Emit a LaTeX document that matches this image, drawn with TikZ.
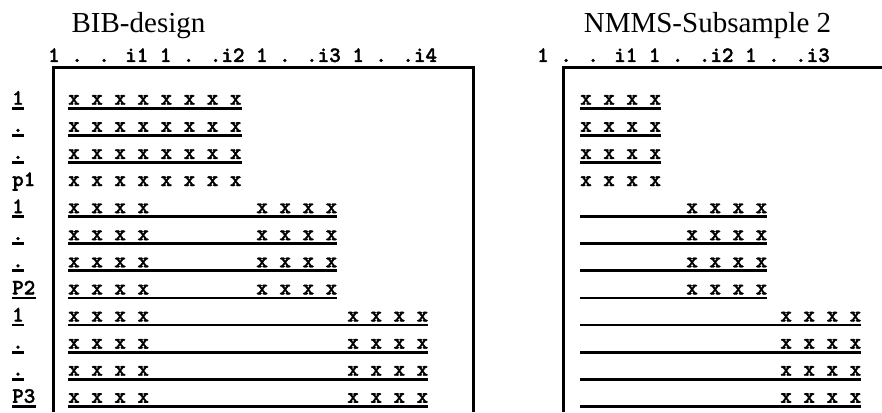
\documentclass[tikz,border=0pt]{standalone}
\usepackage{fontspec}
\usepackage{tikz}
\newfontfamily\titlefont{Liberation Serif}
\newfontfamily\monobold{lmmonolt10-bold.otf}[FakeBold=1.6]
\newcommand{\cellfont}{\monobold\fontsize{22}{22}\selectfont}

\begin{document}
\begin{tikzpicture}[
    x=1pt, y=-1pt,
    titletext/.style={font=\titlefont\fontsize{29}{29}\selectfont, inner sep=0pt, anchor=base},
    cellrow/.style={font=\cellfont, inner sep=0pt, anchor=base west, text depth=0pt,
        execute at begin node={\spaceskip=\fontdimen2\font\relax}},
    uline/.style={append after command={([yshift=-3.3pt]\tikzlastnode.south west) edge[line width=2.8pt] ([yshift=-3.3pt]\tikzlastnode.south east)}},
    panelframe/.style={line width=3pt}
]
\useasboundingbox (0,0) rectangle (882,412);

% Titles
\node[titletext] (bibtitle) at (138.5,33) {BIB-design};
\node[titletext] (nmmstitle) at (707.5,33) {NMMS-Subsample 2};

% Column headers
\node[cellrow] (bibhead) at (48,62) {1 . . i1 1 . .i2 1 . .i3 1 . .i4};
\node[cellrow] (nmmshead) at (537,62) {1 . . i1 1 . .i2 1 . .i3};

% Frames
\draw[panelframe] (53,412) -- (53,67) -- (473,67) -- (473,412);
\draw[panelframe] (563,412) -- (563,67) -- (882,67);

% Row labels
\node[cellrow, uline] (lab1) at (12,104.7) {1};
\node[cellrow, uline] (lab2) at (12,131.8) {.};
\node[cellrow, uline] (lab3) at (12,158.9) {.};
\node[cellrow] (lab4) at (12,186.0) {p1};
\node[cellrow, uline] (lab5) at (12,213.1) {1};
\node[cellrow, uline] (lab6) at (12,240.2) {.};
\node[cellrow, uline] (lab7) at (12,267.3) {.};
\node[cellrow, uline] (lab8) at (12,294.4) {P2};
\node[cellrow, uline] (lab9) at (12,321.5) {1};
\node[cellrow, uline] (lab10) at (12,348.6) {.};
\node[cellrow, uline] (lab11) at (12,375.7) {.};
\node[cellrow, uline] (lab12) at (12,402.8) {P3};

% BIB-design rows
\node[cellrow, uline] (bib1) at (68,104.7) {x x x x x x x x};
\node[cellrow, uline] (bib2) at (68,131.8) {x x x x x x x x};
\node[cellrow, uline] (bib3) at (68,158.9) {x x x x x x x x};
\node[cellrow] (bib4) at (68,186.0) {x x x x x x x x};
\node[cellrow, uline, text width=269pt, align=left] (bib5) at (68,213.1) {x x x x\hfill x x x x};
\node[cellrow, uline, text width=269pt, align=left] (bib6) at (68,240.2) {x x x x\hfill x x x x};
\node[cellrow, uline, text width=269pt, align=left] (bib7) at (68,267.3) {x x x x\hfill x x x x};
\node[cellrow, uline, text width=269pt, align=left] (bib8) at (68,294.4) {x x x x\hfill x x x x};
\node[cellrow, uline, text width=360pt, align=left] (bib9) at (68,321.5) {x x x x\hfill x x x x};
\node[cellrow, uline, text width=360pt, align=left] (bib10) at (68,348.6) {x x x x\hfill x x x x};
\node[cellrow, uline, text width=360pt, align=left] (bib11) at (68,375.7) {x x x x\hfill x x x x};
\node[cellrow, uline, text width=360pt, align=left] (bib12) at (68,402.8) {x x x x\hfill x x x x};

% NMMS rows
\node[cellrow, uline] (nmms1) at (580,104.7) {x x x x};
\node[cellrow, uline] (nmms2) at (580,131.8) {x x x x};
\node[cellrow, uline] (nmms3) at (580,158.9) {x x x x};
\node[cellrow] (nmms4) at (580,186.0) {x x x x};
\node[cellrow, uline, text width=187pt, align=right] (nmms5) at (580,213.1) {x x x x};
\node[cellrow, uline, text width=187pt, align=right] (nmms6) at (580,240.2) {x x x x};
\node[cellrow, uline, text width=187pt, align=right] (nmms7) at (580,267.3) {x x x x};
\node[cellrow, uline, text width=187pt, align=right] (nmms8) at (580,294.4) {x x x x};
\node[cellrow, uline, text width=281pt, align=right] (nmms9) at (580,321.5) {x x x x};
\node[cellrow, uline, text width=281pt, align=right] (nmms10) at (580,348.6) {x x x x};
\node[cellrow, uline, text width=281pt, align=right] (nmms11) at (580,375.7) {x x x x};
\node[cellrow, uline, text width=281pt, align=right] (nmms12) at (580,402.8) {x x x x};

\end{tikzpicture}
\end{document}
